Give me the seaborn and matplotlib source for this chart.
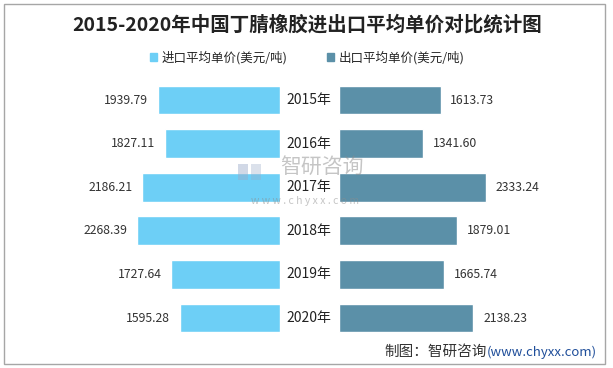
import matplotlib
matplotlib.use("Agg")
import matplotlib.pyplot as plt
import seaborn as sns
import pandas as pd
from matplotlib.patches import Rectangle

# data
years = ["2015年", "2016年", "2017年", "2018年", "2019年", "2020年"]
import_price = [1939.79, 1827.11, 2186.21, 2268.39, 1727.64, 1595.28]
export_price = [1613.73, 1341.60, 2333.24, 1879.01, 1665.74, 2138.23]
import_label = "进口平均单价(美元/吨)"
export_label = "出口平均单价(美元/吨)"

import_color = "#6DCFF6"
export_color = "#5B90A8"

sns.set_theme(style="white")
plt.rcParams["font.family"] = ["Noto Sans CJK SC", "DejaVu Sans"]

df = pd.DataFrame({"year": years, "imp": import_price, "exp": export_price})

W, H = 613, 368
fig = plt.figure(figsize=(W / 100, H / 100), dpi=100)

# pixel layout
px_scale = 0.0629          # px per unit
top_px, bot_px = 78.2, 339.8
ax_w_px = 240
ax_b = 1 - bot_px / H
ax_h = (bot_px - top_px) / H

ax_l = fig.add_axes([(280 - ax_w_px) / W, ax_b, ax_w_px / W, ax_h])
ax_r = fig.add_axes([339 / W, ax_b, ax_w_px / W, ax_h])

sns.barplot(data=df, x="imp", y="year", orient="h", color=import_color,
            width=0.66, saturation=1, ax=ax_l)
sns.barplot(data=df, x="exp", y="year", orient="h", color=export_color,
            width=0.66, saturation=1, ax=ax_r)

lim = ax_w_px / px_scale
ax_l.set_xlim(lim, 0)
ax_r.set_xlim(0, lim)

for ax in (ax_l, ax_r):
    ax.set_ylim(5.5, -0.5)
    ax.set_xlabel("")
    ax.set_ylabel("")
    ax.set_xticks([])
    ax.set_yticks([])
    ax.patch.set_alpha(0)
    for s in ax.spines.values():
        s.set_visible(False)

for i, v in enumerate(import_price):
    ax_l.annotate(f"{v:.2f}", (v, i), xytext=(-7, 0), textcoords="offset points",
                  ha="right", va="center", fontsize=8.8, color="#333333")
for i, v in enumerate(export_price):
    ax_r.annotate(f"{v:.2f}", (v, i), xytext=(7, 0), textcoords="offset points",
                  ha="left", va="center", fontsize=8.8, color="#333333")

# year labels in the middle gap
for i, y in enumerate(years):
    ax_r.annotate(y, (0, i), xytext=(-22, 0), textcoords="offset points",
                  ha="center", va="center", fontsize=10, color="#222222")

# watermark (kept faint, nudged so it does not sit on the year label)
fig.add_artist(Rectangle((238 / W, 1 - 180 / H), 10 / W, 16 / H,
                         transform=fig.transFigure, color="#9AAAC8", alpha=0.45,
                         lw=0))
fig.add_artist(Rectangle((251 / W, 1 - 180 / H), 10 / W, 16 / H,
                         transform=fig.transFigure, color="#9AAAC8", alpha=0.35,
                         lw=0))
fig.text(322 / W, 1 - 167 / H, "智研咨询", fontsize=15, color="#8C8C8C",
         alpha=0.5, ha="center", va="center", zorder=0)
fig.text(305 / W, 1 - 201 / H, "w w w . c h y x x . c o m", fontsize=7.5,
         color="#8C8C8C", alpha=0.5, ha="center", va="center")

# title
fig.text(307 / W, 1 - 25 / H, "2015-2020年中国丁腈橡胶进出口平均单价对比统计图",
         fontsize=14, fontweight="bold", color="#222222", ha="center", va="center")

# legend
handles = [Rectangle((0, 0), 1, 1, color=import_color),
           Rectangle((0, 0), 1, 1, color=export_color)]
fig.legend(handles, [import_label, export_label], loc="center",
           bbox_to_anchor=(307 / W, 1 - 58 / H), ncol=2, frameon=False,
           fontsize=9, handlelength=0.6, handleheight=0.6, handletextpad=0.3,
           columnspacing=3.2)

# footer source
fig.canvas.draw()
src = fig.text(597 / W, 1 - 352 / H, "(www.chyxx.com)", fontsize=9.5,
               color="#1F4E9A", ha="right", va="center")
fig.canvas.draw()
bb = src.get_window_extent()
fig.text(bb.x0 / W, 1 - 352 / H, "制图：智研咨询", fontsize=10.5,
         color="#333333", ha="right", va="center")

# border around the figure
fig.patches.append(Rectangle((4 / W, 4 / H), 601 / W, 360 / H, fill=False,
                             edgecolor="#A6A6A6", linewidth=1,
                             transform=fig.transFigure, figure=fig))

fig.savefig("out.png", dpi=100)
